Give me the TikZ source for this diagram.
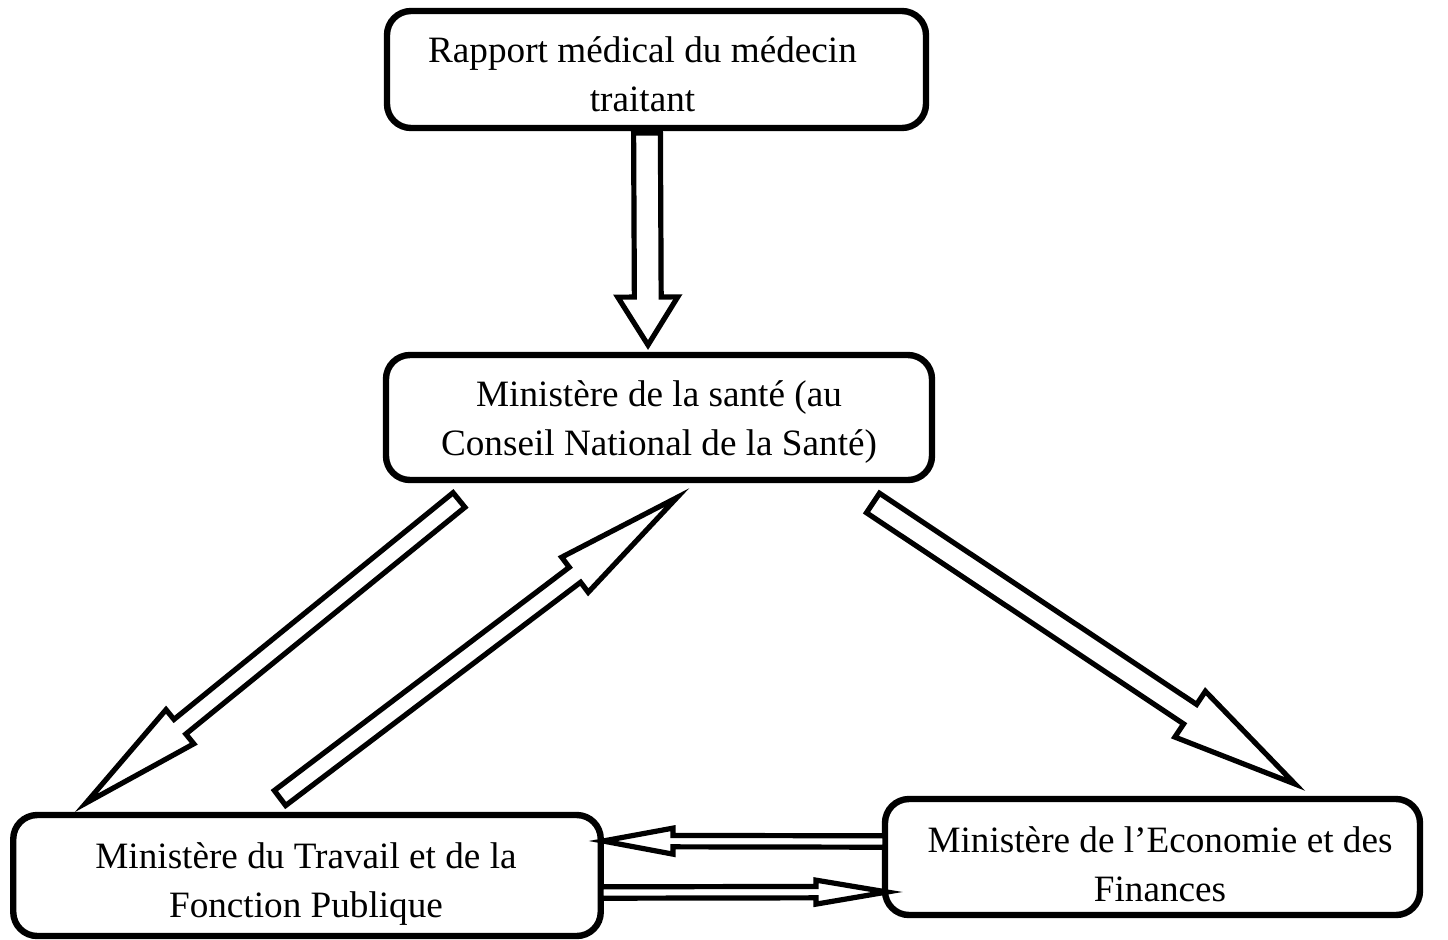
\documentclass[tikz,border=0pt]{standalone}
\usepackage{fontspec}
\setmainfont{Liberation Serif}
\usetikzlibrary{calc}
\tikzset{
  box/.style={draw, line width=3.2pt, rounded corners=12pt, inner sep=0pt},
  txt/.style={align=center, font=\fontsize{18.6}{24.5}\selectfont, inner sep=0pt},
  barrow/.style={draw, line width=2.6pt, fill=white, line join=miter, miter limit=20},
}
\newcommand\blockarr[5]{%
  \coordinate (ba-h) at ($(#2)!#5!(#1)$);
  \path[barrow] ($(#1)!#3!90:(#2)$) -- ($(ba-h)!#3!90:(#2)$) -- ($(ba-h)!#4!90:(#2)$)
    -- (#2) -- ($(ba-h)!#4!-90:(#2)$) -- ($(ba-h)!#3!-90:(#2)$) -- ($(#1)!#3!-90:(#2)$) -- cycle;
}
\begin{document}
\begin{tikzpicture}[x=0.5pt, y=-0.5pt]
\useasboundingbox (0,0) rectangle (1448,939);
\node[box, minimum width=269.5pt, minimum height=58.5pt,
  label={[txt, xshift=-7pt, yshift=-2.5pt]center:{Rapport médical du médecin\\traitant}}] (rap) at (656.5,69.5) {};
\node[box, minimum width=273pt, minimum height=62.5pt,
  label={[txt, yshift=-2.5pt]center:{Ministère de la santé (au\\Conseil National de la Santé)}}] (sante) at (659,417.5) {};
\node[box, minimum width=293.75pt, minimum height=60.5pt,
  label={[txt, xshift=-0.5pt, yshift=-4.5pt]center:{Ministère du Travail et de la\\Fonction Publique}}] (trav) at (307,875.5) {};
\node[box, minimum width=267.5pt, minimum height=58pt,
  label={[txt, xshift=3.75pt, yshift=-3.5pt]center:{Ministère de l’Economie et des\\Finances}}] (eco) at (1152.5,857) {};
% connector end points
\coordinate (a1s) at (647,133);   \coordinate (a1e) at (648,345);
\coordinate (a2s) at (459,500);   \coordinate (a2e) at (86,803);
\coordinate (a3s) at (280,798);   \coordinate (a3e) at (677,497.5);
\coordinate (a4s) at (873,503);   \coordinate (a4e) at (1295,784);
\coordinate (a5s) at (885,841.5); \coordinate (a5e) at (603,841);
\coordinate (a6s) at (601,892.5); \coordinate (a6e) at (887,892);
\blockarr{a1s}{a1e}{6.7pt}{15pt}{24pt}
\blockarr{a2s}{a2e}{4.7pt}{11pt}{60.5pt}
\blockarr{a3s}{a3e}{4.7pt}{11pt}{64pt}
\blockarr{a4s}{a4e}{5.85pt}{13.75pt}{63pt}
\blockarr{a5s}{a5e}{2.85pt}{6.5pt}{35pt}
\blockarr{a6s}{a6e}{2.85pt}{6pt}{35.5pt}
\end{tikzpicture}
\end{document}
